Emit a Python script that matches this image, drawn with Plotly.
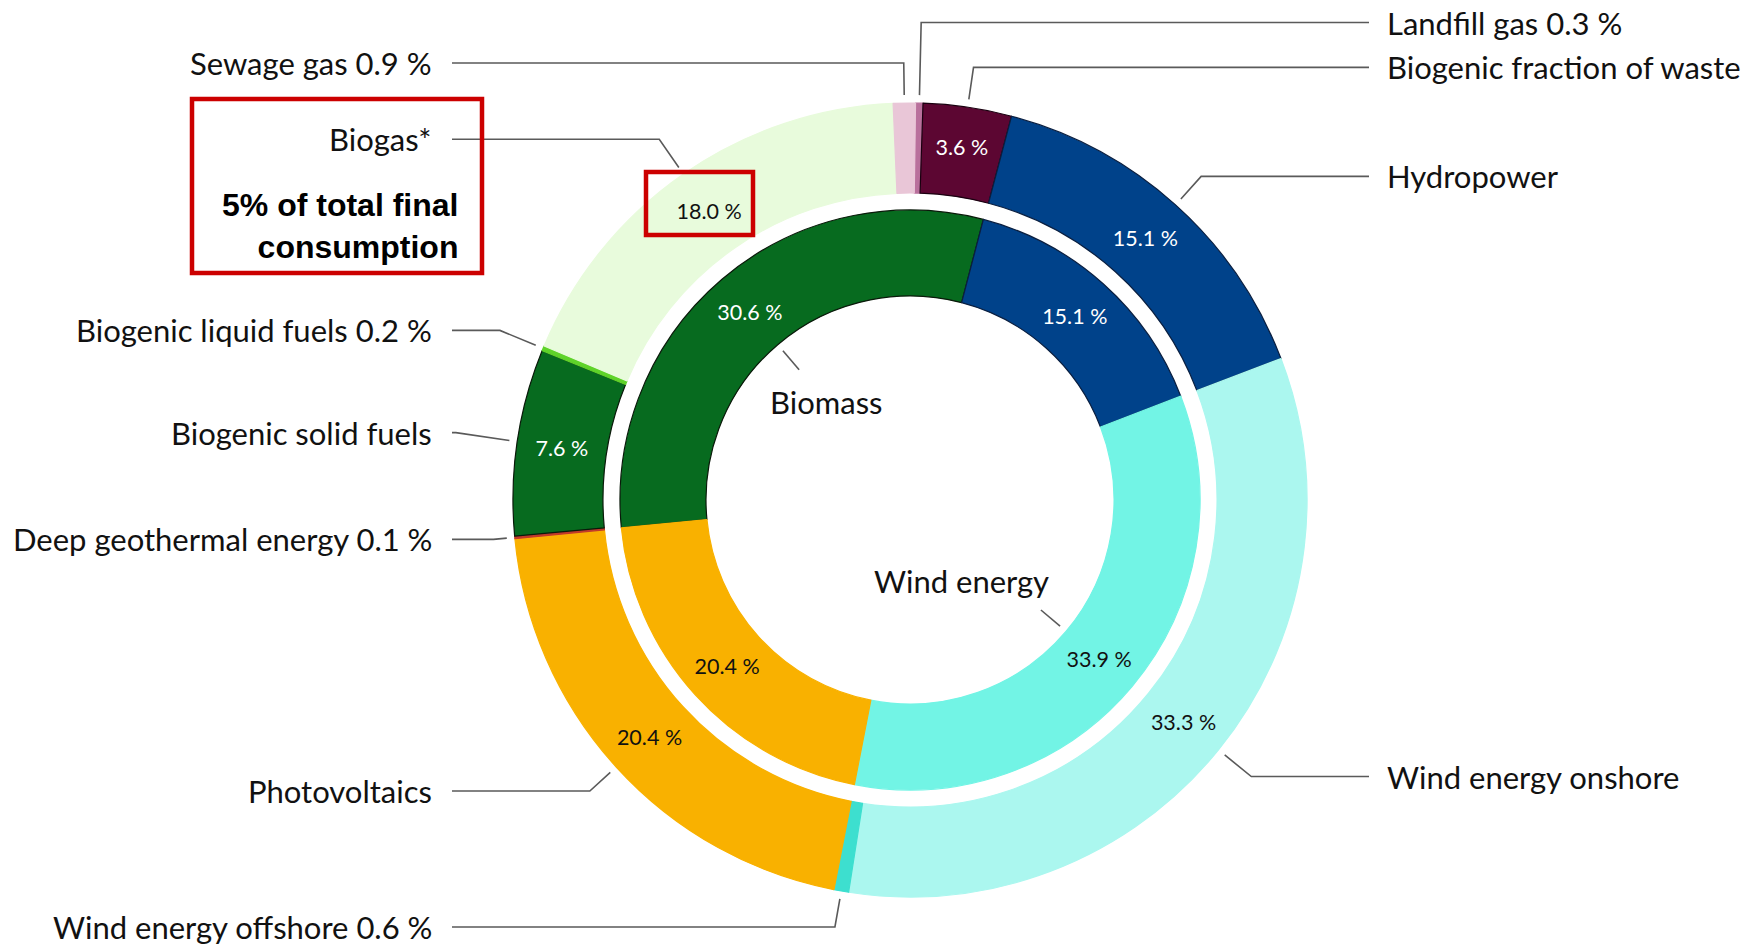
import math
import plotly.graph_objects as go

# ---------------- data ----------------
outer_labels = ["Landfill gas", "Biogenic fraction of waste", "Hydropower", "Wind energy onshore",
                "Wind energy offshore", "Photovoltaics", "Deep geothermal energy",
                "Biogenic solid fuels", "Biogenic liquid fuels", "Biogas*", "Sewage gas"]
outer_values = [0.3, 3.6, 15.1, 33.3, 0.6, 20.4, 0.1, 7.6, 0.2, 18.0, 0.9]

inner_labels = ["Biomass", "Hydropower", "Wind energy", "Photovoltaics"]
inner_values = [30.6, 15.1, 33.9, 20.4]

# ---------------- styles ----------------
outer_colors = ["#b9709c", "#5c0632", "#00428a", "#abf7ef", "#3ddfcf", "#f9b100",
                "#c0392b", "#076b1f", "#5fd32a", "#e8fbdc", "#e9c6d7"]
outer_line_colors = ["#b9709c", "#1a0010", "#0a1f40", "#abf7ef", "#3ddfcf", "#f9b100",
                     "#c0392b", "#0a1a0a", "#5fd32a", "#e8fbdc", "#e9c6d7"]
outer_text_colors = ["#000", "#ffffff", "#ffffff", "#111", "#111", "#111",
                     "#111", "#ffffff", "#111", "#111", "#111"]
inner_colors = ["#076b1f", "#00428a", "#72f4e5", "#f9b100"]
inner_line_colors = ["#0a1a0a", "#0a1f40", "#72f4e5", "#f9b100"]
inner_text_colors = ["#ffffff", "#ffffff", "#111", "#111"]

W, H = 1762, 947
CX, CY = 910, 500
R_OUT, R_OUT_HOLE = 397, 307
R_IN, R_IN_HOLE = 290, 204
ROT_OUT, ROT_IN = 0.8, -95.5

FONT = "Lato"
LABEL_SIZE = 31
PCT_SIZE = 21.5


def px(x):
    return x / W


def py(y):
    return 1 - y / H


def pct_text(vals):
    return [f"{v:.1f} %" if v >= 1 else "" for v in vals]


def mid_angles(vals, rot):
    tot = sum(vals)
    out, acc = [], rot
    for v in vals:
        a = v / tot * 360
        out.append(acc + a / 2)
        acc += a
    return out


fig = go.Figure()
fig.add_trace(go.Pie(
    values=outer_values, labels=outer_labels, sort=False, direction="clockwise",
    rotation=ROT_OUT, hole=R_OUT_HOLE / R_OUT,
    domain=dict(x=[px(CX - R_OUT), px(CX + R_OUT)], y=[(H - CY - R_OUT) / H, (H - CY + R_OUT) / H]),
    marker=dict(colors=outer_colors, line=dict(color=outer_line_colors, width=1.2)),
    text=pct_text(outer_values), textinfo="text", textposition="inside",
    insidetextorientation="horizontal",
    insidetextfont=dict(family=FONT, size=PCT_SIZE, color=outer_text_colors),
    showlegend=False, hoverinfo="label+value",
))
fig.add_trace(go.Pie(
    values=inner_values, labels=inner_labels, sort=False, direction="clockwise",
    rotation=ROT_IN, hole=R_IN_HOLE / R_IN,
    domain=dict(x=[px(CX - R_IN), px(CX + R_IN)], y=[(H - CY - R_IN) / H, (H - CY + R_IN) / H]),
    marker=dict(colors=inner_colors, line=dict(color=inner_line_colors, width=1.2)),
    text=pct_text(inner_values), textinfo="text", textposition="inside",
    insidetextorientation="horizontal",
    insidetextfont=dict(family=FONT, size=PCT_SIZE, color=inner_text_colors),
    showlegend=False, hoverinfo="label+value",
))

# ---------------- leader lines & labels ----------------
# label placement (pixel y of label, side)
outer_label_pos = {
    "Landfill gas": (22.5, "right"),
    "Biogenic fraction of waste": (67.4, "right"),
    "Hydropower": (176.4, "right"),
    "Wind energy onshore": (776.5, "right"),
    "Wind energy offshore": (927.0, "left"),
    "Photovoltaics": (791.0, "left"),
    "Deep geothermal energy": (539.4, "left"),
    "Biogenic solid fuels": (432.6, "left"),
    "Biogenic liquid fuels": (330.4, "left"),
    "Biogas*": (139.3, "left"),
    "Sewage gas": (63.0, "left"),
}
LEFT_TEXT_X, LEFT_LINE_X = 434, 452
RIGHT_TEXT_X, RIGHT_LINE_X = 1385, 1369
LINE_COLOR = "#5a5a5a"

shapes, annotations = [], []
for name, val, ang in zip(outer_labels, outer_values, mid_angles(outer_values, ROT_OUT)):
    ly, side = outer_label_pos[name]
    a = math.radians(ang)
    dx, dy = math.sin(a), -math.cos(a)
    x0, y0 = CX + (R_OUT + 8) * dx, CY + (R_OUT + 8) * dy
    t = (ly - y0) / dy if abs(dy) > 1e-6 else 0
    x1, y1 = x0 + t * dx, ly
    x2 = LEFT_LINE_X if side == "left" else RIGHT_LINE_X
    shapes.append(dict(type="path", xref="paper", yref="paper",
                       path=f"M {px(x0)},{py(y0)} L {px(x1)},{py(y1)} L {px(x2)},{py(ly)}",
                       line=dict(color=LINE_COLOR, width=1.6)))
    txt = name + (f" {val} %" if val < 1 else "")
    annotations.append(dict(
        x=px(LEFT_TEXT_X if side == "left" else RIGHT_TEXT_X), y=py(ly),
        xref="paper", yref="paper", text=txt, showarrow=False,
        xanchor="right" if side == "left" else "left", yanchor="middle",
        font=dict(family=FONT, size=LABEL_SIZE, color="#111")))

inner_label_pos = {"Biomass": (826, 402), "Wind energy": (961, 581)}
for name, ang in zip(inner_labels, mid_angles(inner_values, ROT_IN)):
    if name not in inner_label_pos:
        continue
    a = math.radians(ang)
    dx, dy = math.sin(a), -math.cos(a)
    x0, y0 = CX + (R_IN_HOLE - 8) * dx, CY + (R_IN_HOLE - 8) * dy
    x1, y1 = CX + (R_IN_HOLE - 33) * dx, CY + (R_IN_HOLE - 33) * dy
    shapes.append(dict(type="line", xref="paper", yref="paper",
                       x0=px(x0), y0=py(y0), x1=px(x1), y1=py(y1),
                       line=dict(color=LINE_COLOR, width=1.6)))
    lx, ly = inner_label_pos[name]
    annotations.append(dict(x=px(lx), y=py(ly), xref="paper", yref="paper", text=name,
                            showarrow=False, xanchor="center", yanchor="middle",
                            font=dict(family=FONT, size=LABEL_SIZE, color="#111")))

# highlight boxes
RED = "#cc0000"
shapes.append(dict(type="rect", xref="paper", yref="paper",
                   x0=px(192), y0=py(99), x1=px(482), y1=py(273),
                   line=dict(color=RED, width=4.5)))
shapes.append(dict(type="rect", xref="paper", yref="paper",
                   x0=px(646), y0=py(172), x1=px(753), y1=py(235),
                   line=dict(color=RED, width=4.5)))
annotations.append(dict(x=px(460), y=py(226), xref="paper", yref="paper",
                        text="<b>5% of total final<br>consumption</b>", showarrow=False,
                        xanchor="right", yanchor="middle", align="right",
                        font=dict(family="Liberation Sans", size=32, color="#000")))

fig.update_layout(
    width=W, height=H, margin=dict(l=0, r=0, t=0, b=0),
    paper_bgcolor="white", plot_bgcolor="white",
    shapes=shapes, annotations=annotations,
    uniformtext=dict(minsize=PCT_SIZE, mode="show"),
)
fig.write_html("out.html")
